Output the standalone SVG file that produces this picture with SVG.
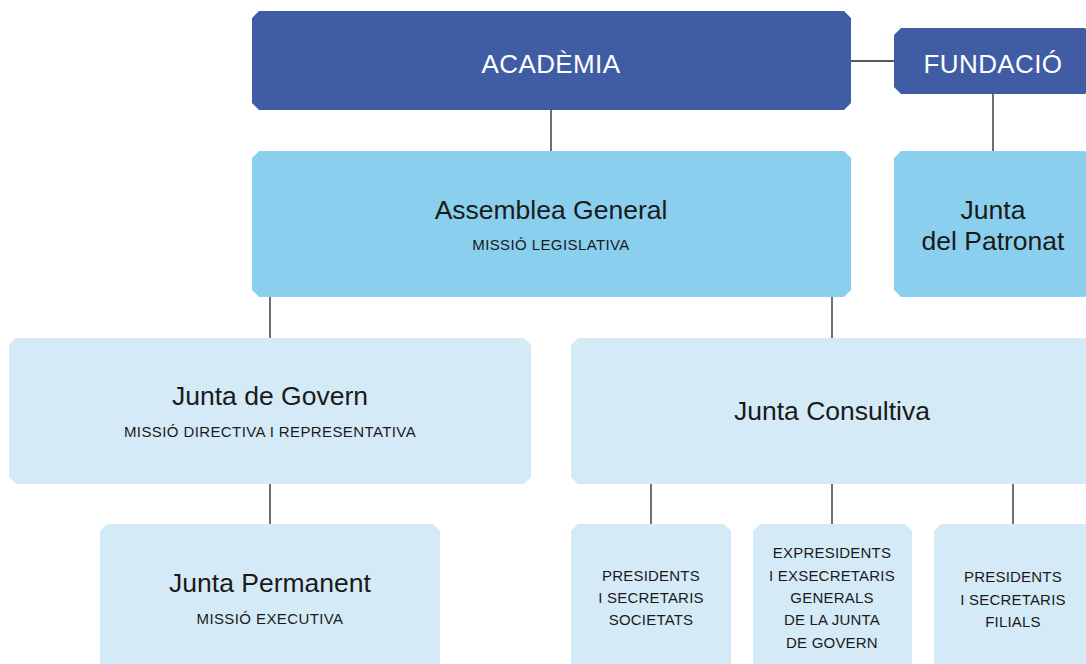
<svg xmlns="http://www.w3.org/2000/svg" width="1086" height="664" viewBox="0 0 1086 664">
<style>
.d{fill:#3f5ca5}
.m{fill:#8bcfee}
.l{fill:#d5eaf7}
text{font-family:"Liberation Sans Narrow","Liberation Sans",Arial,sans-serif;text-anchor:middle;fill:#1a1a1a}
.w{fill:#ffffff;font-size:26px;letter-spacing:0.4px}
.t{font-size:26.5px}
.s{font-size:15px;letter-spacing:0.4px}
.c{font-size:15px;letter-spacing:0.2px}
.conn line{stroke:#222;stroke-width:1.3}
</style>
<g class="conn">
<line x1="851" y1="61" x2="894" y2="61"/>
<line x1="551" y1="110" x2="551" y2="151"/>
<line x1="993" y1="94" x2="993" y2="151"/>
<line x1="270" y1="297" x2="270" y2="338"/>
<line x1="832" y1="297" x2="832" y2="338"/>
<line x1="270" y1="484" x2="270" y2="524"/>
<line x1="651" y1="484" x2="651" y2="524"/>
<line x1="832" y1="484" x2="832" y2="524"/>
<line x1="1013" y1="484" x2="1013" y2="524"/>
</g>
<g id="academia">
<path class="d" d="M259 11H844L851 18V103L844 110H259L252 103V18Z"/>
<text class="w" x="551" y="73">ACADÈMIA</text>
</g>
<g id="fundacio">
<path class="d" d="M901 28H1085L1092 35V87L1085 94H901L894 87V35Z"/>
<text class="w" x="993" y="73">FUNDACIÓ</text>
</g>
<g id="assemblea">
<path class="m" d="M259 151H844L851 158V290L844 297H259L252 290V158Z"/>
<text class="t" x="551" y="219">Assemblea General</text>
<text class="s" x="551" y="250">MISSIÓ LEGISLATIVA</text>
</g>
<g id="patronat">
<path class="m" d="M901 151H1085L1092 158V290L1085 297H901L894 290V158Z"/>
<text class="t" x="993" y="219">Junta</text>
<text class="t" x="993" y="250">del Patronat</text>
</g>
<g id="govern">
<path class="l" d="M16 338H524L531 345V477L524 484H16L9 477V345Z"/>
<text class="t" x="270" y="405">Junta de Govern</text>
<text class="s" x="270" y="437">MISSIÓ DIRECTIVA I REPRESENTATIVA</text>
</g>
<g id="consultiva">
<path class="l" d="M578 338H1086L1093 345V477L1086 484H578L571 477V345Z"/>
<text class="t" x="832" y="420">Junta Consultiva</text>
</g>
<g id="permanent">
<path class="l" d="M107 524H433L440 531V680H100V531Z"/>
<text class="t" x="270" y="592">Junta Permanent</text>
<text class="s" x="270" y="624">MISSIÓ EXECUTIVA</text>
</g>
<g id="societats">
<path class="l" d="M578 524H724L731 531V680H571V531Z"/>
<text class="c" x="651" y="581">PRESIDENTS</text>
<text class="c" x="651" y="603">I SECRETARIS</text>
<text class="c" x="651" y="625">SOCIETATS</text>
</g>
<g id="expresidents">
<path class="l" d="M760 524H905L912 531V680H753V531Z"/>
<text class="c" x="832" y="558">EXPRESIDENTS</text>
<text class="c" x="832" y="581">I EXSECRETARIS</text>
<text class="c" x="832" y="603">GENERALS</text>
<text class="c" x="832" y="625">DE LA JUNTA</text>
<text class="c" x="832" y="648">DE GOVERN</text>
</g>
<g id="filials">
<path class="l" d="M941 524H1086L1093 531V680H934V531Z"/>
<text class="c" x="1013" y="582">PRESIDENTS</text>
<text class="c" x="1013" y="605">I SECRETARIS</text>
<text class="c" x="1013" y="627">FILIALS</text>
</g>
</svg>
